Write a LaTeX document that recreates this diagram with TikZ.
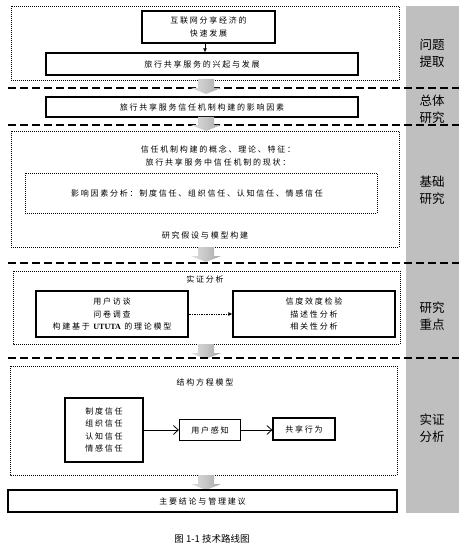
\documentclass[tikz,border=0pt]{standalone}
\usepackage{fontspec}
\newfontfamily\cjk[LetterSpace=22]{Noto Sans CJK SC}
\newfontfamily\cjkside{Noto Sans CJK SC}
\usetikzlibrary{arrows.meta}

\tikzset{box/.style = {draw, line width=1.2pt, inner sep=0, align=center,
                       font=\cjk\fontsize{8}{12.5}\selectfont}}
\tikzset{txt/.style = {inner sep=0, align=center, font=\cjk\fontsize{8}{12.5}\selectfont}}
\tikzset{dotbox/.style = {line width=0.9pt, dash pattern=on 1pt off 1pt}}
\tikzset{sepline/.style = {line width=1.6pt, dash pattern=on 8pt off 4pt}}
\tikzset{side/.style = {inner sep=0, align=center, font=\cjkside\fontsize{12.5}{17}\selectfont}}
\tikzset{link/.style = {line width=0.8pt, -{Straight Barb[length=5pt,width=9pt]}}}

% gray block arrow between two heights
\newcommand{\grayarrow}[2]{%
  \shade[left color=gray!25, right color=gray!70, middle color=gray!45]
    (198,#1) -- (214,#1) -- (214,{#2-6}) -- (221,{#2-6})
    -- (206,#2) -- (191,{#2-6}) -- (198,{#2-6}) -- cycle;}

\begin{document}
\begin{tikzpicture}[x=1pt, y=-1pt]
      \useasboundingbox (0,0) rectangle (474,548);

      % side bar
      \fill[gray!50] (406,6) rectangle (459,513);
      \node[side] (s1) at (432,53) {问题\\提取};
      \node[side] (s2) at (432,109) {总体\\研究};
      \node[side] (s3) at (432,190) {基础\\研究};
      \node[side] (s4) at (432,316) {研究\\重点};
      \node[side] (s5) at (432,428) {实证\\分析};

      % question
      \draw[dotbox] (11,6) rectangle (399,80);
      \node[box, minimum width=133, minimum height=32] (net) at (208.5,27)
           {互联网分享经济的\\快速发展};
      \node[box, minimum width=312, minimum height=22] (rise) at (202,64)
           {旅行共享服务的兴起与发展};
      \draw[line width=0.8pt, -{Latex[length=4pt,width=4pt]}] (net.south -| 205,0) -- (rise.north -| 205,0);
      \draw[sepline] (8,88) -- (459,88);
      \grayarrow{79}{94}

      % overall
      \node[box, minimum width=312, minimum height=20] (factor) at (202,107)
           {旅行共享服务信任机制构建的影响因素};
      \draw[sepline] (8,125) -- (459,125);
      \grayarrow{117}{131}

      % basis
      \draw[dotbox] (11,131) rectangle (399,247);
      \node[txt] (concept) at (218,156) {信任机制构建的概念、理论、特征：\\旅行共享服务中信任机制的现状：};
      \draw[dotbox] (25,173) rectangle (377,213);
      \node[txt] (influence) at (197,193) {影响因素分析：制度信任、组织信任、认知信任、情感信任};
      \node[txt] (hypo) at (205,235) {研究假设与模型构建};
      \grayarrow{247}{262}
      \draw[sepline] (8,263) -- (459,263);

      % key points
      \draw[dotbox] (13,271) rectangle (400,344);
      \node[txt] (emp) at (205,279) {实证分析};
      \node[box, minimum width=152, minimum height=46] (survey) at (112,314)
           {用户访谈\\问卷调查\\构建基于 {\bfseries\fontspec{Liberation Serif}UTUTA} 的理论模型};
      \node[box, minimum width=162, minimum height=46] (test) at (314,314)
           {信度效度检验\\描述性分析\\相关性分析};
      \draw[line width=1pt, dash pattern=on 1pt off 0.7pt, -{Latex[length=4pt,width=4pt]}] (survey) -- (test);
      \grayarrow{344}{359}
      \draw[sepline] (8,358) -- (459,358);

      % model
      \draw[dotbox] (10,366) rectangle (397,475);
      \node[txt] (sem) at (205,382) {结构方程模型};
      \node[box, minimum width=78, minimum height=64] (trust) at (104,430)
           {制度信任\\组织信任\\认知信任\\情感信任};
      \node[box, minimum width=61, minimum height=21] (percep) at (210,430) {用户感知};
      \node[box, minimum width=62, minimum height=22] (behav) at (304,429) {共享行为};
      \draw[link] (trust) -- (percep);
      \draw[link] (percep) -- (behav.west |- percep);
      \grayarrow{475}{490}

      % conclusion
      \node[box, minimum width=389, minimum height=22] (concl) at (202.5,501)
           {主要结论与管理建议};

      \node[inner sep=0, font=\cjkside\fontsize{9.5}{12}\selectfont] (cap) at (212,539) {图 1-1 技术路线图};
\end{tikzpicture}
\end{document}
